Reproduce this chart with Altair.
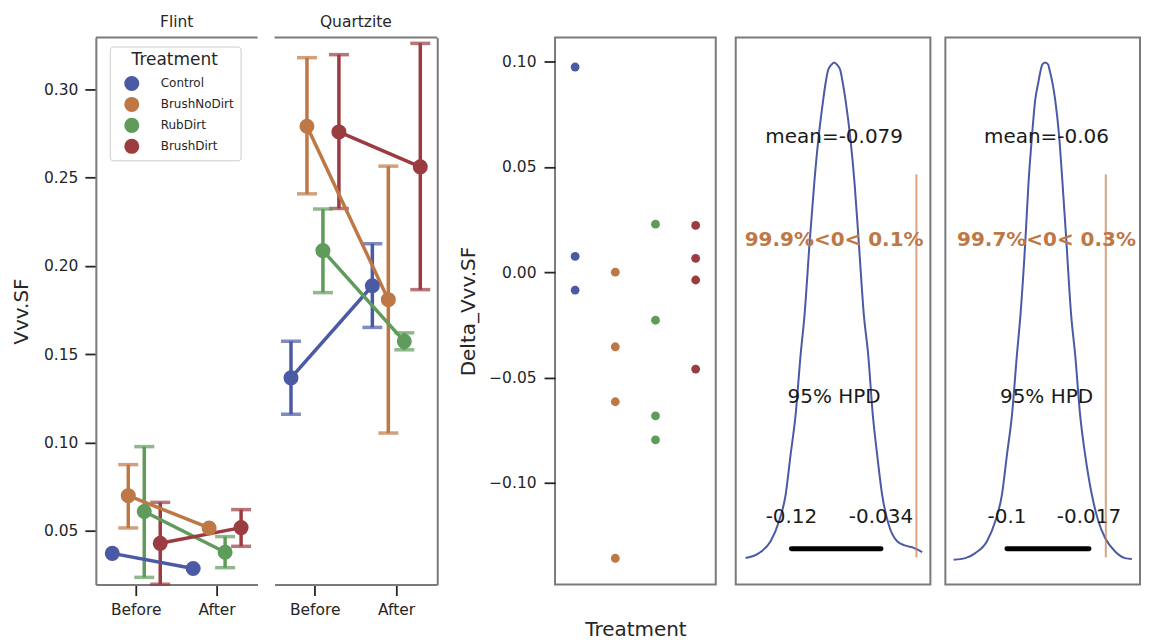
import altair as alt
import pandas as pd

# ---------------------------------------------------------------- data
treatments = ["Control", "BrushNoDirt", "RubDirt", "BrushDirt"]
palette = ["#4b5aa5", "#be7846", "#5f9b5a", "#9b3c41"]
times = ["Before", "After"]

# Vvv.SF mean and 95% CI, ordered (Before, After) within each treatment
flint_mean = [0.0371, 0.0285, 0.0698, 0.0515, 0.0608, 0.0377, 0.0428, 0.0517]
flint_lo = [None, None, 0.0515, None, 0.0235, 0.0290, 0.0196, 0.0411]
flint_hi = [None, None, 0.0874, None, 0.0976, 0.0466, 0.0660, 0.0619]
quartz_mean = [0.1366, 0.1888, 0.2792, 0.1809, 0.2087, 0.1573, 0.2760, 0.2562]
quartz_lo = [0.1159, 0.1652, 0.2409, 0.1053, 0.1849, 0.1525, 0.2326, 0.1866]
quartz_hi = [0.1573, 0.2126, 0.3181, 0.2566, 0.2323, 0.1621, 0.3198, 0.3262]
vvv_domain = [0.0194, 0.3295]

# per-sample change in Vvv.SF
delta_control = [0.0974, 0.0075, -0.0085]
delta_brushnodirt = [0.0, -0.0354, -0.0615, -0.1358]
delta_rubdirt = [0.0228, -0.0228, -0.0682, -0.0796]
delta_brushdirt = [0.0222, 0.0066, -0.0037, -0.0460]

# posterior densities of the contrasts
c1_x = [-0.1640, -0.1512, -0.1400, -0.1320, -0.1256, -0.1208, -0.1160, -0.1112,
        -0.1074, -0.1026, -0.0981, -0.0942, -0.0895, -0.0872, -0.0847, -0.0818,
        -0.0789, -0.0761, -0.0732, -0.0707, -0.0681, -0.0633, -0.0594, -0.0553,
        -0.0505, -0.0463, -0.0419, -0.0377, -0.0329, -0.0266, -0.0185, -0.0105,
        -0.0026, 0.0055]
c1_d = [0.06, 0.24, 0.67, 1.39, 2.36, 3.82, 5.27, 7.45,
        8.91, 11.51, 13.69, 15.27, 16.72, 17.33, 17.81, 17.99,
        18.08, 17.99, 17.81, 17.33, 16.72, 15.27, 13.69, 11.51,
        8.91, 7.45, 5.27, 3.82, 2.36, 1.27, 0.67, 0.51,
        0.43, 0.28]
c2_x = [-0.1539, -0.1421, -0.1320, -0.1202, -0.1118, -0.1051, -0.1000, -0.0949,
        -0.0899, -0.0863, -0.0815, -0.0782, -0.0747, -0.0714, -0.0684, -0.0657,
        -0.0643, -0.0613, -0.0583, -0.0570, -0.0539, -0.0512, -0.0472, -0.0438,
        -0.0398, -0.0351, -0.0310, -0.0260, -0.0209, -0.0141, -0.0075, -0.0007,
        0.0094, 0.0195, 0.0263]
c2_d = [0.00, 0.06, 0.25, 0.70, 1.45, 2.45, 3.96, 5.47,
        7.74, 9.25, 11.96, 14.22, 15.98, 17.36, 17.99, 18.50,
        18.69, 18.77, 18.69, 18.50, 17.99, 17.36, 15.98, 14.22,
        11.96, 9.25, 7.74, 5.47, 3.96, 2.45, 1.45, 0.82,
        0.31, 0.06, 0.03]
c1_hpd = [-0.12, -0.034]
c2_hpd = [-0.1, -0.017]
c1_mean = -0.079
c2_mean = -0.06
c1_pct = "99.9%<0< 0.1%"
c2_pct = "99.7%<0< 0.3%"
ref_val = 0.0

# ---------------------------------------------------------------- style
SPINE = "#7a7a7a"
INK = "#262626"
PLOT_H = 548


def summary_frame(means, lo, hi):
    rows = []
    k = 0
    for t in treatments:
        for tm in times:
            rows.append({"Treatment": t, "Time": tm, "mean": means[k],
                         "lo": lo[k], "hi": hi[k]})
            k += 1
    return pd.DataFrame(rows)


def pointplot(df, title, width, first):
    x_scale = alt.Scale(domain=times, paddingInner=0, paddingOuter=0)
    y_scale = alt.Scale(domain=vvv_domain, nice=False, zero=False)
    xo = alt.XOffset("Treatment:N",
                     scale=alt.Scale(domain=treatments, paddingInner=0, paddingOuter=0.53))
    col_scale = alt.Scale(domain=treatments, range=palette)

    # every layer carries the same guide definitions so they merge into one
    x_axis = alt.Axis(title=None, labelAngle=0, tickSize=11, labelPadding=7,
                      domainColor=SPINE, domainWidth=2)
    if first:
        y_axis = alt.Axis(title="Vvv.SF", values=[0.05, 0.10, 0.15, 0.20, 0.25, 0.30],
                          format=".2f", tickSize=11, labelPadding=7,
                          domainColor=SPINE, domainWidth=2,
                          minExtent=55, maxExtent=55, titlePadding=9)
        legend = alt.Legend(title="Treatment", orient="none", legendX=14, legendY=9,
                            fillColor="white", strokeColor="#cccccc",
                            cornerRadius=3, padding=6, symbolOffset=8,
                            symbolType="circle", symbolSize=227, symbolStrokeWidth=0,
                            symbolOpacity=1, labelFontSize=12, labelOffset=21,
                            labelColor=INK, rowPadding=5, titleFontSize=17,
                            titleFontWeight="normal", titleAnchor="middle",
                            titlePadding=6, titleColor=INK)
    else:
        y_axis = alt.Axis(orient="right", title=None, labels=False, ticks=False,
                          domainColor=SPINE, domainWidth=2)
        legend = None

    def xenc():
        return alt.X("Time:N", sort=times, scale=x_scale, axis=x_axis)

    def yenc(field):
        return alt.Y(field, type="quantitative", scale=y_scale, axis=y_axis)

    colour = alt.Color("Treatment:N", scale=col_scale, legend=legend)

    base = alt.Chart(df)
    err = base.transform_filter("datum.lo != null")

    top_spine = alt.Chart(pd.DataFrame({"top": [vvv_domain[1]]})).mark_rule(
        color=SPINE, strokeWidth=2
    ).encode(y=yenc("top"))
    bars = err.mark_rule(strokeWidth=3.5).encode(
        x=xenc(), xOffset=xo, y=yenc("lo"), y2="hi:Q", color=colour)
    cap_lo = err.mark_tick(orient="horizontal", size=20, thickness=3.5).encode(
        x=xenc(), xOffset=xo, y=yenc("lo"), color=colour)
    cap_hi = err.mark_tick(orient="horizontal", size=20, thickness=3.5).encode(
        x=xenc(), xOffset=xo, y=yenc("hi"), color=colour)
    lines = base.mark_line(strokeWidth=3.5).encode(
        x=xenc(), xOffset=xo, y=yenc("mean"), color=colour, detail="Treatment:N")
    points = base.mark_circle(size=227, opacity=1).encode(
        x=xenc(), xOffset=xo, y=yenc("mean"), color=colour)

    return alt.layer(top_spine, bars, cap_lo, cap_hi, lines, points).properties(
        width=width, height=PLOT_H,
        title=alt.TitleParams(title, fontSize=15.5, fontWeight="normal", color=INK,
                              offset=-6, baseline="alphabetic", anchor="middle"),
    )


def contrast_panel(xs, dens, hpd, mean, pct, title, x_domain, width):
    peak = max(dens)
    y_dom = [-0.05 * peak, 1.05 * peak]
    span = y_dom[1] - y_dom[0]
    xs_scale = alt.Scale(domain=x_domain, nice=False, zero=False)
    ys_scale = alt.Scale(domain=y_dom, nice=False, zero=False)

    curve = alt.Chart(pd.DataFrame({"x": xs, "d": dens})).mark_line(
        color=palette[0], strokeWidth=2, interpolate="monotone"
    ).encode(
        x=alt.X("x:Q", scale=xs_scale,
                axis=alt.Axis(title=title, values=[-0.1, 0.0], format=".1f",
                              tickSize=8, labelPadding=4, domain=False,
                              minExtent=30, maxExtent=30, titlePadding=5)),
        y=alt.Y("d:Q", scale=ys_scale, axis=None),
        order="x:Q",
    )
    bar = alt.Chart(pd.DataFrame({"lo": [hpd[0]], "hi": [hpd[1]], "y": [0.022 * peak]})).mark_rule(
        color="black", strokeWidth=5, strokeCap="round"
    ).encode(
        x=alt.X("lo:Q", scale=xs_scale, axis=None), x2="hi:Q",
        y=alt.Y("y:Q", scale=ys_scale, axis=None),
    )
    notes = pd.DataFrame({
        "x": [hpd[0], hpd[1], mean, mean],
        "y": [0.074 * peak, 0.074 * peak, 0.315 * peak, 0.838 * peak],
        "t": [str(hpd[0]), str(hpd[1]), "95% HPD", f"mean={mean}"],
    })
    labels = alt.Chart(notes).mark_text(
        fontSize=20, baseline="alphabetic", align="center", color="#1a1a1a"
    ).encode(
        x=alt.X("x:Q", scale=xs_scale, axis=None),
        y=alt.Y("y:Q", scale=ys_scale, axis=None),
        text="t:N",
    )
    ref = alt.Chart(pd.DataFrame({
        "x": [ref_val], "y0": [y_dom[0] + 0.05 * span], "y1": [y_dom[0] + 0.75 * span]
    })).mark_rule(color="#c87e4f", opacity=0.7, strokeWidth=2).encode(
        x=alt.X("x:Q", scale=xs_scale, axis=None),
        y=alt.Y("y0:Q", scale=ys_scale, axis=None), y2="y1:Q",
    )
    pct_text = alt.Chart(pd.DataFrame({"x": [mean], "y": [0.630 * peak], "t": [pct]})).mark_text(
        fontSize=20, fontWeight="bold", baseline="alphabetic", align="center",
        color=palette[1]
    ).encode(
        x=alt.X("x:Q", scale=xs_scale, axis=None),
        y=alt.Y("y:Q", scale=ys_scale, axis=None),
        text="t:N",
    )
    return alt.layer(curve, bar, labels, ref, pct_text).properties(
        width=width, height=PLOT_H,
        view=alt.ViewBackground(stroke=SPINE, strokeWidth=2),
    )


def gap(w):
    return alt.Chart(alt.Data(values=[])).mark_point(opacity=0).properties(
        width=w, height=PLOT_H)


# ---------------------------------------------------------------- panels
flint = pointplot(summary_frame(flint_mean, flint_lo, flint_hi), "Flint", 162, True)
quartz = pointplot(summary_frame(quartz_mean, quartz_lo, quartz_hi), "Quartzite", 163, False)

delta_rows = []
for t, vals in zip(treatments, [delta_control, delta_brushnodirt, delta_rubdirt, delta_brushdirt]):
    for v in vals:
        delta_rows.append({"Treatment": t, "delta": v})
delta = alt.Chart(pd.DataFrame(delta_rows)).mark_circle(size=78, opacity=1).encode(
    x=alt.X("Treatment:N", sort=treatments,
            scale=alt.Scale(type="point", domain=treatments, padding=0.5),
            axis=alt.Axis(title="Treatment", labels=False, ticks=False, domain=False,
                          minExtent=30, maxExtent=30, titlePadding=5)),
    y=alt.Y("delta:Q", scale=alt.Scale(domain=[-0.1483, 0.1114], nice=False, zero=False),
            axis=alt.Axis(title="Delta_Vvv.SF", values=[-0.10, -0.05, 0.0, 0.05, 0.10],
                          format=".2f", tickSize=11, labelPadding=8, domain=False,
                          minExtent=67, maxExtent=67, titlePadding=10)),
    color=alt.Color("Treatment:N", scale=alt.Scale(domain=treatments, range=palette),
                    legend=None),
).properties(width=161, height=PLOT_H,
             view=alt.ViewBackground(stroke=SPINE, strokeWidth=2))

c1 = contrast_panel(c1_x, c1_d, c1_hpd, c1_mean, c1_pct, "Contrast BrushNoDirt",
                    [-0.1735, 0.0134], 195)
c2 = contrast_panel(c2_x, c2_d, c2_hpd, c2_mean, c2_pct, "Contrast RubDirt",
                    [-0.1623, 0.0346], 195)

chart = alt.hconcat(
    flint, gap(17), quartz, gap(118), delta, gap(20), c1, gap(15), c2,
    spacing=0, bounds="flush",
).resolve_scale(
    color="independent"
).properties(
    padding={"left": 11, "top": 14, "right": 10, "bottom": 55},
).configure(
    font="DejaVu Sans",
).configure_view(
    stroke="transparent",
).configure_axis(
    grid=False, labelFontSize=15.5, labelColor=INK, tickColor=INK, tickWidth=1.8,
    titleFontSize=20, titleFontWeight="normal", titleColor=INK,
)

chart.save("out.html", embed_options={"renderer": "svg", "actions": False})
